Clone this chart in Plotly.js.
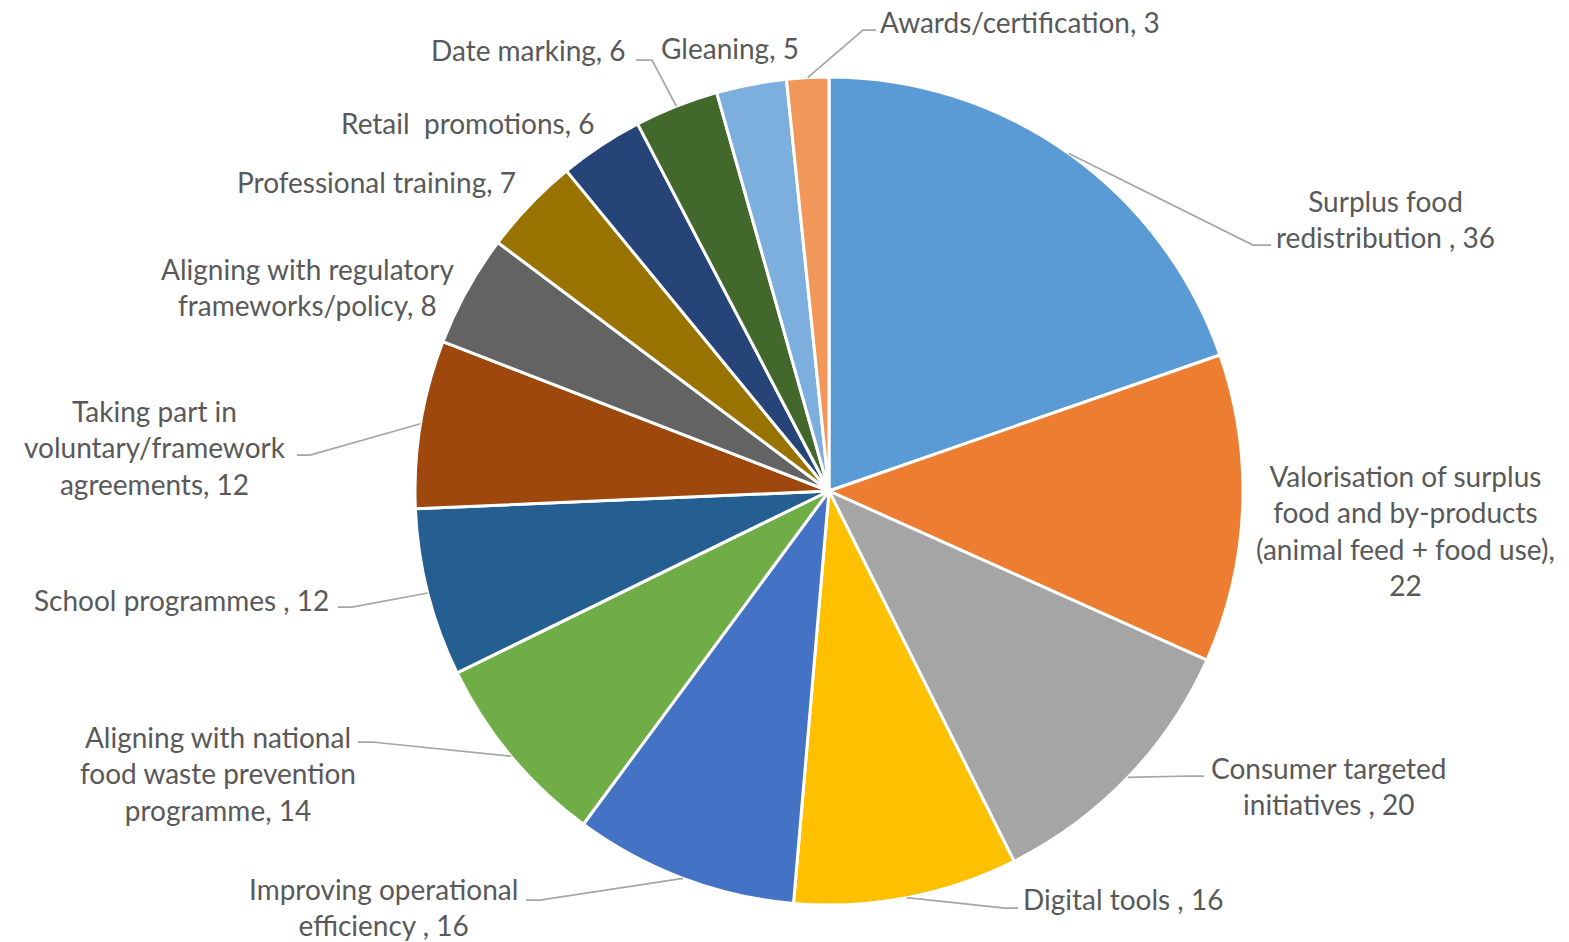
<!DOCTYPE html>
<html>
<head>
<meta charset="utf-8">
<script src="https://cdn.plot.ly/plotly-3.0.1.min.js"></script>
<style>html,body{margin:0;padding:0;background:#fff;}#chart{width:1569px;height:942px;}</style>
</head>
<body>
<div id="chart"></div>
<script>
// ---- data ----
var categories = [
  "Surplus food redistribution",
  "Valorisation of surplus food and by-products (animal feed + food use)",
  "Consumer targeted initiatives",
  "Digital tools",
  "Improving operational efficiency",
  "Aligning with national food waste prevention programme",
  "School programmes",
  "Taking part in voluntary/framework agreements",
  "Aligning with regulatory frameworks/policy",
  "Professional training",
  "Retail promotions",
  "Date marking",
  "Gleaning",
  "Awards/certification"
];
var values = [36, 22, 20, 16, 16, 14, 12, 12, 8, 7, 6, 6, 5, 3];
var labelText = [
  "Surplus food<br>redistribution , 36",
  "Valorisation of surplus<br>food and by-products<br>(animal feed + food use),<br>22",
  "Consumer targeted<br>initiatives , 20",
  "Digital tools , 16",
  "Improving operational<br>efficiency , 16",
  "Aligning with national<br>food waste prevention<br>programme, 14",
  "School programmes , 12",
  "Taking part in<br>voluntary/framework<br>agreements, 12",
  "Aligning with regulatory<br>frameworks/policy, 8",
  "Professional training, 7",
  "Retail  promotions, 6",
  "Date marking, 6",
  "Gleaning, 5",
  "Awards/certification, 3"
];
var colors = ["#5B9BD5","#ED7D31","#A5A5A5","#FFC000","#4472C4","#70AD47","#255E91",
              "#9E480E","#636363","#997300","#264478","#43682B","#7CAFDD","#F1975A"];

// ---- layout (pixel positions of label centres; leader elbow/end) ----
var W = 1569, H = 942;
var CX = 829, CY = 491, R = 414;
var labelPos = [
  [1385, 219], [1405, 530], [1329, 786], [1123, 899], [383, 907], [218, 773], [181, 600],
  [155, 447], [307, 287], [376, 182], [467, 123], [528, 50], [730, 48], [1020, 22]
];
// leader: [elbowX, elbowY, endX, endY] or null
var leaders = [
  [1253, 245, 1271, 245], null, [1190, 776, 1204, 776], [1005, 908, 1018, 908],
  [540, 900, 526, 900], [372, 742, 358, 742], [352, 607, 338, 607], [310, 455, 297, 455],
  null, null, null, [652, 60, 636, 60], null, [863, 30, 876, 30]
];

function px(x){ return x / W; }
function py(y){ return 1 - y / H; }

var total = values.reduce(function(a,b){return a+b;},0);
var annotations = [], shapes = [];
var cum = 0;
for (var i = 0; i < values.length; i++) {
  var mid = cum + values[i] / 2;
  cum += values[i];
  var ang = mid / total * 2 * Math.PI;
  var ex = CX + R * Math.sin(ang), ey = CY - R * Math.cos(ang);
  annotations.push({
    xref: 'paper', yref: 'paper', x: px(labelPos[i][0]), y: py(labelPos[i][1]),
    xanchor: 'center', yanchor: 'middle', align: 'center', showarrow: false,
    text: labelText[i],
    font: {family: 'Lato, "Open Sans", sans-serif', size: 28, color: '#595959'}
  });
  var L = leaders[i];
  if (L) {
    shapes.push({
      type: 'path', xref: 'paper', yref: 'paper',
      path: 'M ' + px(ex) + ',' + py(ey) + ' L ' + px(L[0]) + ',' + py(L[1]) + ' L ' + px(L[2]) + ',' + py(L[3]),
      line: {color: '#A6A6A6', width: 1.75}
    });
  }
}

var trace = {
  type: 'pie',
  labels: categories,
  values: values,
  sort: false,
  direction: 'clockwise',
  rotation: 0,
  textinfo: 'none',
  hoverinfo: 'label+value',
  marker: {colors: colors, line: {color: '#FFFFFF', width: 3}},
  domain: {x: [px(CX - R), px(CX + R)], y: [py(CY + R), py(CY - R)]}
};

var layout = {
  width: W, height: H,
  margin: {l: 0, r: 0, t: 0, b: 0},
  paper_bgcolor: '#FFFFFF',
  showlegend: false,
  annotations: annotations,
  shapes: shapes
};

Plotly.newPlot('chart', [trace], layout, {displayModeBar: false, staticPlot: true});
</script>
</body>
</html>
